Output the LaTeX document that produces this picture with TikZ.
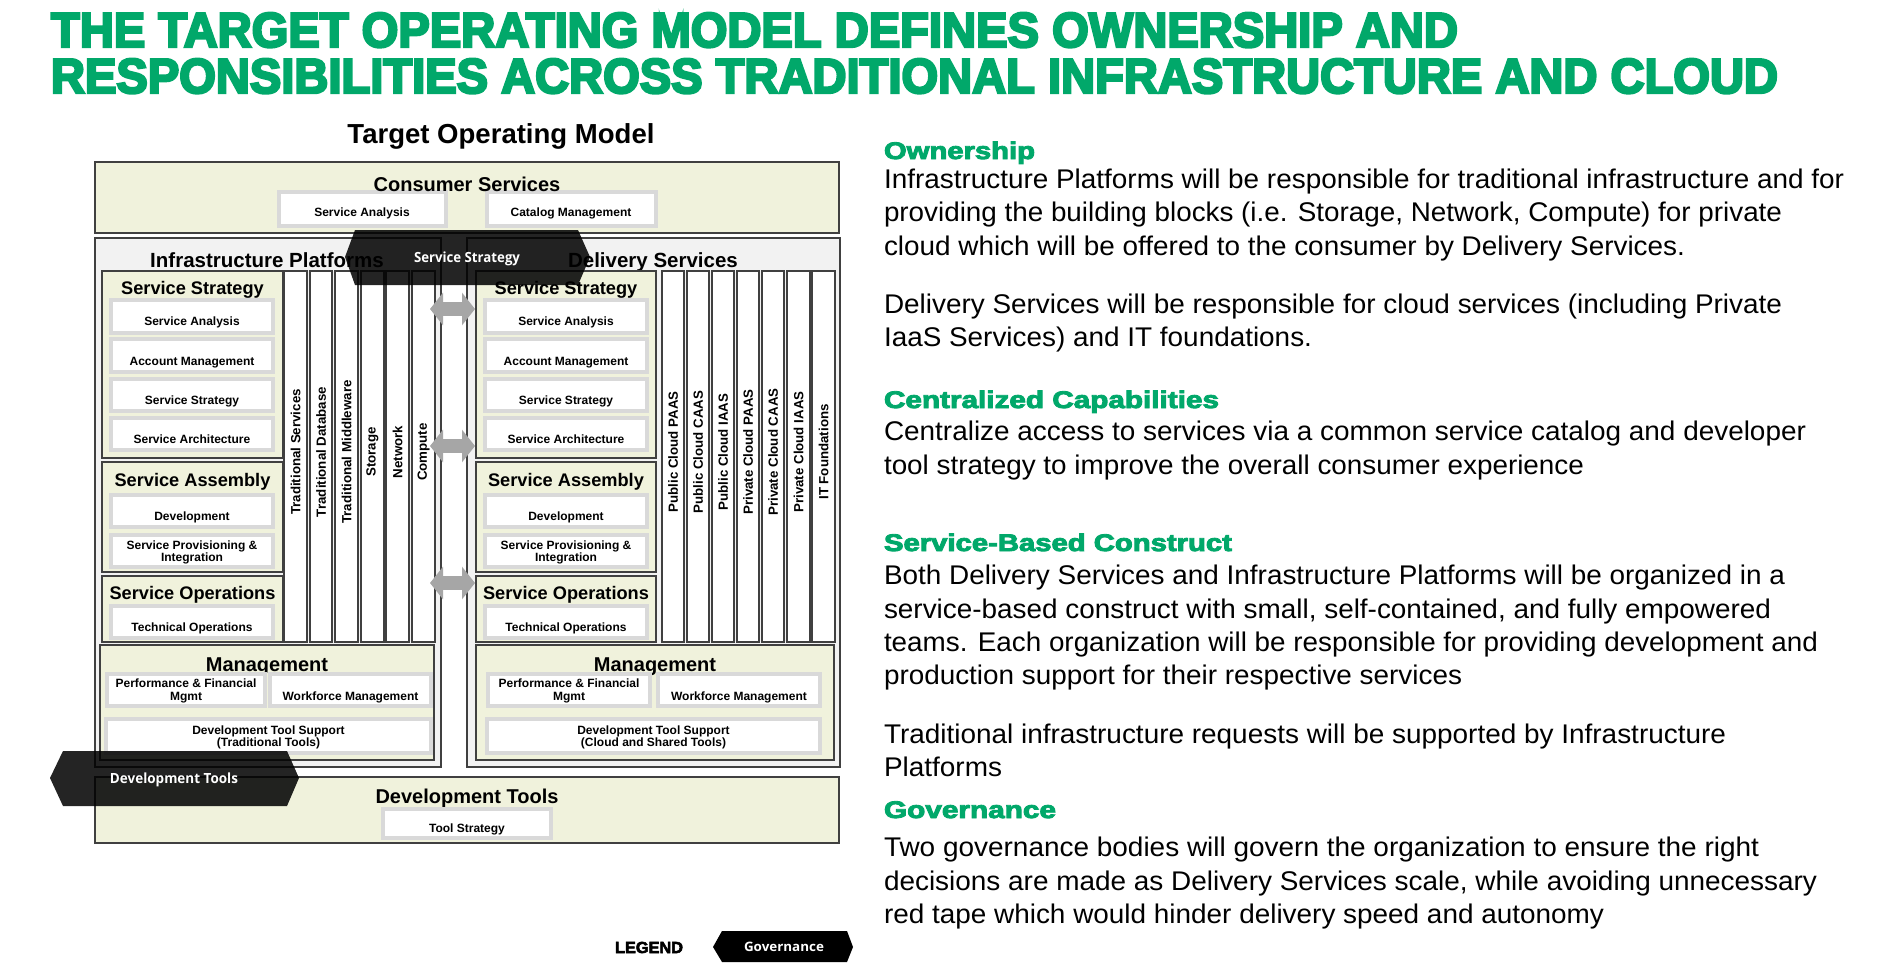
\documentclass[tikz,border=0pt]{standalone}
\usepackage{fontspec}
\usepackage{graphicx}
\setmainfont{Liberation Sans}
\newfontfamily\heavyfont{Liberation Sans}[UprightFeatures={FakeBold=5}, BoldFeatures={FakeBold=5}]
\newfontfamily\headfont{Liberation Sans}[UprightFeatures={FakeBold=3.5}, BoldFeatures={FakeBold=3.5}]
\newfontfamily\tagfont{Open Sans}
\usetikzlibrary{arrows.meta,fit}

\definecolor{tomgreen}{HTML}{01A86A}
\definecolor{layerbeige}{HTML}{F0F2DC}
\definecolor{panelgray}{HTML}{F2F2F2}
\definecolor{edgedark}{HTML}{404040}
\definecolor{framegray}{HTML}{D9D9D9}
\definecolor{arrowgray}{HTML}{A6A6A6}

% stretch a line horizontally to a given width, keeping its height
\newcommand\fitto[2]{\resizebox{#1}{\height}{#2}}
\newcommand\fs[1]{\fontsize{#1bp}{#1bp}\selectfont}

\tikzset{
  every node/.style={inner sep=0pt, outer sep=0pt},
  panel/.style={draw=edgedark, line width=2.4bp, fill=panelgray},
  layer/.style={draw=edgedark, line width=2.4bp, fill=layerbeige},
  column/.style={draw=edgedark, line width=2.4bp, fill=white},
  item/.style={draw=framegray, line width=3.6bp, fill=white},
  headline/.style={anchor=base west, text=tomgreen, font=\heavyfont\bfseries\fs{49}},
  paneltitle/.style={anchor=base, font=\bfseries\fs{20.5}},
  layertitle/.style={anchor=base, font=\bfseries\fs{18.2}},
  itemlbl/.style={anchor=base, font=\bfseries\fs{12}},
  collbl/.style={rotate=90, font=\bfseries\fs{13.3}},
  govshape/.style={fill=black, fill opacity=0.86},
  govlbl/.style={anchor=base, text=white, font=\tagfont\bfseries\fs{14}},
  linkarrow/.style={draw=arrowgray, line width=14bp,
    {Triangle[width=32bp,length=13bp]}-{Triangle[width=32bp,length=13bp]}},
  sechead/.style={anchor=base west, text=tomgreen, font=\headfont\bfseries\fs{24}},
  bodyline/.style={anchor=base west, font=\fs{27}},
}

\begin{document}
\begin{tikzpicture}[x=1bp, y=-1bp]
\useasboundingbox[fill=white] (0,0) rectangle (1893,969);

% ---------- headline ----------
\node[headline] (head1) at (51,47) {\fitto{1407bp}{THE TARGET OPERATING MODEL DEFINES OWNERSHIP AND}};
\node[headline] (head2) at (51,93) {\fitto{1727bp}{RESPONSIBILITIES ACROSS TRADITIONAL INFRASTRUCTURE AND CLOUD}};

\node[anchor=base, font=\bfseries\fs{27.5}] (tom) at (501,143) {\fitto{307bp}{Target Operating Model}};

% ---------- consumer services ----------
\node[layer, fit={(95,162) (839,233)}] (cons) {};
\node[item, fit={(279,192) (446,226)}] (cons-sa) {};
\node[itemlbl] (cons-sa-t) at (362,216) {Service Analysis};
\node[item, fit={(487,192) (656,226)}] (cons-cm) {};
\node[itemlbl] (cons-cm-t) at (571,216) {Catalog Management};
\node[anchor=base, font=\bfseries\fs{20}] (cons-t) at (467,191) {Consumer Services};

% ---------- the two platform panels ----------
\node[panel, fit={(95,238) (441,767)}] (infra) {};
\node[panel, fit={(467,238) (840,767)}] (deliv) {};
\node[paneltitle] (infra-t) at (267,267) {Infrastructure Platforms};
\node[paneltitle] (deliv-t) at (653,267) {Delivery Services};

% ---------- left: layers ----------
\node[layer, fit={(102,271) (283,458)}] (ipss) {};
\node[layertitle] (ipss-t) at (192.5,294) {Service Strategy};
\node[item, fit={(111,300) (273,333)}] (ipss-1) {};
\node[itemlbl] (ipss-1t) at (192,325) {Service Analysis};
\node[item, fit={(111,339) (273,372)}] (ipss-2) {};
\node[itemlbl] (ipss-2t) at (192,365) {Account Management};
\node[item, fit={(111,379) (273,411)}] (ipss-3) {};
\node[itemlbl] (ipss-3t) at (192,404) {Service Strategy};
\node[item, fit={(111,418) (273,450)}] (ipss-4) {};
\node[itemlbl] (ipss-4t) at (192,443) {Service Architecture};

\node[layer, fit={(102,462) (283,572)}] (ipsa) {};
\node[layertitle] (ipsa-t) at (192.5,486) {Service Assembly};
\node[item, fit={(111,495) (273,527)}] (ipsa-1) {};
\node[itemlbl] (ipsa-1t) at (192,520) {Development};
\node[item, fit={(111,535) (273,567)}] (ipsa-2) {};
\node[itemlbl] (ipsa-2t) at (192,549) {Service Provisioning \&};
\node[itemlbl] (ipsa-2u) at (192,561) {Integration};

\node[layer, fit={(102,576) (283,642)}] (ipso) {};
\node[layertitle] (ipso-t) at (192.5,599) {Service Operations};
\node[item, fit={(111,606) (273,638)}] (ipso-1) {};
\node[itemlbl] (ipso-1t) at (192,631) {Technical Operations};

% ---------- left: service columns ----------
\node[column, fit={(284,271) (307,642)}] (ipc1) {};
\node[collbl] (ipc1-t) at (295.5,452) {Traditional Services};
\node[column, fit={(310,271) (332,642)}] (ipc2) {};
\node[collbl] (ipc2-t) at (321,452) {Traditional Database};
\node[column, fit={(335,271) (358,642)}] (ipc3) {};
\node[collbl] (ipc3-t) at (346.5,452) {Traditional Middleware};
\node[column, fit={(361,271) (384,642)}] (ipc4) {};
\node[collbl] (ipc4-t) at (372.5,452) {Storage};
\node[column, fit={(386,271) (409,642)}] (ipc5) {};
\node[collbl] (ipc5-t) at (397.5,452) {Network};
\node[column, fit={(412,271) (435,642)}] (ipc6) {};
\node[collbl] (ipc6-t) at (423.5,452) {Compute};

% ---------- left: management ----------
\node[layer, fit={(100,645) (434,760)}] (ipmg) {};
\node[anchor=base, font=\bfseries\fs{20}] (ipmg-t) at (267,671) {Management};
\node[item, fit={(107,674) (265,706)}] (ipmg-1) {};
\node[itemlbl] (ipmg-1t) at (186,687) {Performance \& Financial};
\node[itemlbl] (ipmg-1u) at (186,700) {Mgmt};
\node[item, fit={(270,674) (431,706)}] (ipmg-2) {};
\node[itemlbl] (ipmg-2t) at (350.5,700) {Workforce Management};
\node[item, fit={(106,719) (431,753)}] (ipmg-3) {};
\node[itemlbl] (ipmg-3t) at (268.5,734) {Development Tool Support};
\node[itemlbl] (ipmg-3u) at (268.5,746) {(Traditional Tools)};

% ---------- right: layers ----------
\node[layer, fit={(476,271) (656,458)}] (dsss) {};
\node[layertitle] (dsss-t) at (566,294) {Service Strategy};
\node[item, fit={(485,300) (647,333)}] (dsss-1) {};
\node[itemlbl] (dsss-1t) at (566,325) {Service Analysis};
\node[item, fit={(485,339) (647,372)}] (dsss-2) {};
\node[itemlbl] (dsss-2t) at (566,365) {Account Management};
\node[item, fit={(485,379) (647,411)}] (dsss-3) {};
\node[itemlbl] (dsss-3t) at (566,404) {Service Strategy};
\node[item, fit={(485,418) (647,450)}] (dsss-4) {};
\node[itemlbl] (dsss-4t) at (566,443) {Service Architecture};

\node[layer, fit={(476,462) (656,572)}] (dssa) {};
\node[layertitle] (dssa-t) at (566,486) {Service Assembly};
\node[item, fit={(485,495) (647,527)}] (dssa-1) {};
\node[itemlbl] (dssa-1t) at (566,520) {Development};
\node[item, fit={(485,535) (647,567)}] (dssa-2) {};
\node[itemlbl] (dssa-2t) at (566,549) {Service Provisioning \&};
\node[itemlbl] (dssa-2u) at (566,561) {Integration};

\node[layer, fit={(476,576) (656,642)}] (dsso) {};
\node[layertitle] (dsso-t) at (566,599) {Service Operations};
\node[item, fit={(485,606) (647,638)}] (dsso-1) {};
\node[itemlbl] (dsso-1t) at (566,631) {Technical Operations};

% ---------- right: service columns ----------
\node[column, fit={(662,271) (684,642)}] (dsc1) {};
\node[collbl] (dsc1-t) at (673,452) {Public Cloud PAAS};
\node[column, fit={(687,271) (709,642)}] (dsc2) {};
\node[collbl] (dsc2-t) at (698,452) {Public Cloud CAAS};
\node[column, fit={(712,271) (734,642)}] (dsc3) {};
\node[collbl] (dsc3-t) at (723,452) {Public Cloud IAAS};
\node[column, fit={(737,271) (759,642)}] (dsc4) {};
\node[collbl] (dsc4-t) at (748,452) {Private Cloud PAAS};
\node[column, fit={(762,271) (784,642)}] (dsc5) {};
\node[collbl] (dsc5-t) at (773,452) {Private Cloud CAAS};
\node[column, fit={(787,271) (810,642)}] (dsc6) {};
\node[collbl] (dsc6-t) at (798.5,452) {Private Cloud IAAS};
\node[column, fit={(812,271) (835,642)}] (dsc7) {};
\node[collbl] (dsc7-t) at (823.5,452) {IT Foundations};

% ---------- right: management ----------
\node[layer, fit={(476,645) (834,760)}] (dsmg) {};
\node[anchor=base, font=\bfseries\fs{20}] (dsmg-t) at (655,671) {Management};
\node[item, fit={(488,674) (650,706)}] (dsmg-1) {};
\node[itemlbl] (dsmg-1t) at (569,687) {Performance \& Financial};
\node[itemlbl] (dsmg-1u) at (569,700) {Mgmt};
\node[item, fit={(658,674) (820,706)}] (dsmg-2) {};
\node[itemlbl] (dsmg-2t) at (739,700) {Workforce Management};
\node[item, fit={(487,719) (820,753)}] (dsmg-3) {};
\node[itemlbl] (dsmg-3t) at (653.5,734) {Development Tool Support};
\node[itemlbl] (dsmg-3u) at (653.5,746) {(Cloud and Shared Tools)};

% ---------- development tools ----------
\node[layer, fit={(95,777) (839,843)}] (devt) {};
\node[anchor=base, font=\bfseries\fs{20}] (devt-t) at (467,803) {Development Tools};
\node[item, fit={(383,809) (551,838)}] (devt-1) {};
\node[itemlbl] (devt-1t) at (467,832) {Tool Strategy};

% ---------- links between the platform panels ----------
\coordinate (lkL1) at (430,309); \coordinate (lkR1) at (475,309);
\coordinate (lkL2) at (430,446); \coordinate (lkR2) at (475,446);
\coordinate (lkL3) at (430,583); \coordinate (lkR3) at (475,583);
\draw[linkarrow] (lkL1) -- (lkR1);
\draw[linkarrow] (lkL2) -- (lkR2);
\draw[linkarrow] (lkL3) -- (lkR3);

% ---------- governance bodies ----------
\fill[govshape] (345,257) -- (355,230) -- (578,230) -- (590,257) -- (578,285) -- (355,285) -- cycle;
\node[govlbl] (gov-ss) at (467,262) {\fitto{106bp}{Service Strategy}};
\fill[govshape] (50,778) -- (63,751) -- (287,751) -- (299,778) -- (287,806) -- (63,806) -- cycle;
\node[govlbl] (gov-dt) at (174,783) {\fitto{128bp}{Development Tools}};

% ---------- legend ----------
\node[anchor=base, font=\headfont\bfseries\fs{16}] (legend) at (649,953) {\fitto{68bp}{LEGEND}};
\fill[black] (713,947) -- (722,931) -- (847,931) -- (853,947) -- (847,962) -- (722,962) -- cycle;
\node[govlbl, font=\tagfont\bfseries\fs{13}] (legend-gov) at (784,951) {\fitto{80bp}{Governance}};

% ---------- explanatory text ----------
\node[sechead] (own-h) at (884,159) {\fitto{151bp}{Ownership}};
\node[bodyline] (own-1) at (884,188) {\fitto{960bp}{Infrastructure Platforms will be responsible for traditional infrastructure and for}};
\node[bodyline] (own-2) at (884,221) {\fitto{898bp}{providing the building blocks (i.e. Storage, Network, Compute) for private}};
\node[bodyline] (own-3) at (884,255) {\fitto{801bp}{cloud which will be offered to the consumer by Delivery Services.}};
\node[bodyline] (own-4) at (884,313) {\fitto{898bp}{Delivery Services will be responsible for cloud services (including Private}};
\node[bodyline] (own-5) at (884,346) {\fitto{428bp}{IaaS Services) and IT foundations.}};

\node[sechead] (cen-h) at (884,408) {\fitto{335bp}{Centralized Capabilities}};
\node[bodyline] (cen-1) at (884,440) {\fitto{922bp}{Centralize access to services via a common service catalog and developer}};
\node[bodyline] (cen-2) at (884,474) {\fitto{700bp}{tool strategy to improve the overall consumer experience}};

\node[sechead] (sbc-h) at (884,551) {\fitto{348bp}{Service-Based Construct}};
\node[bodyline] (sbc-1) at (884,584) {\fitto{901bp}{Both Delivery Services and Infrastructure Platforms will be organized in a}};
\node[bodyline] (sbc-2) at (884,618) {\fitto{887bp}{service-based construct with small, self-contained, and fully empowered}};
\node[bodyline] (sbc-3) at (884,651) {\fitto{934bp}{teams. Each organization will be responsible for providing development and}};
\node[bodyline] (sbc-4) at (884,684) {\fitto{578bp}{production support for their respective services}};
\node[bodyline] (sbc-5) at (884,743) {\fitto{842bp}{Traditional infrastructure requests will be supported by Infrastructure}};
\node[bodyline] (sbc-6) at (884,776) {\fitto{118bp}{Platforms}};

\node[sechead] (gov-h) at (884,818) {\fitto{172bp}{Governance}};
\node[bodyline] (gov-1) at (884,856) {\fitto{875bp}{Two governance bodies will govern the organization to ensure the right}};
\node[bodyline] (gov-2) at (884,890) {\fitto{933bp}{decisions are made as Delivery Services scale, while avoiding unnecessary}};
\node[bodyline] (gov-3) at (884,923) {\fitto{720bp}{red tape which would hinder delivery speed and autonomy}};
\end{tikzpicture}
\end{document}
